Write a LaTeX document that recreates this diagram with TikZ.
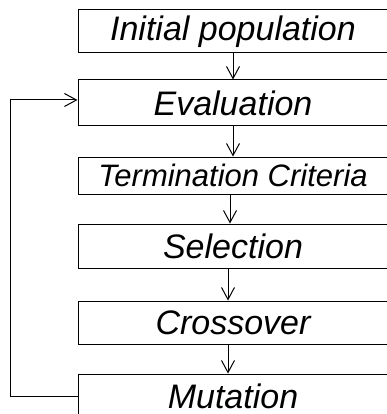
\documentclass[tikz,border=0pt]{standalone}
\usepackage{fontspec}
\setmainfont{Liberation Sans}
\usetikzlibrary{arrows.meta}
\begin{document}
\begin{tikzpicture}[x=1pt,y=-1pt,
  stagebox/.style={draw, line width=1pt, minimum width=310pt, inner sep=0pt, font=\fontsize{34}{36}\selectfont\itshape},
  flow/.style={line width=1pt, -{Straight Barb[length=12pt,width=13pt,line width=1pt]}}]
\useasboundingbox (0,0) rectangle (387,414);
\clip (0,0) rectangle (387,414);
\node[stagebox, minimum height=43pt] (b1) at (233,31.5) {Initial population};
\node[stagebox, minimum height=46pt] (b2) at (233,103) {Evaluation};
\node[stagebox, minimum height=37pt, font=\fontsize{31}{33}\selectfont\itshape] (b3) at (233,175.5) {Termination Criteria};
\node[stagebox, minimum height=44pt] (b4) at (233,246) {Selection};
\node[stagebox, minimum height=43pt] (b5) at (233,322.5) {Crossover};
\node[stagebox, minimum height=44pt] (b6) at (233,396) {Mutation};
\coordinate (lb) at (10,396);
\coordinate (lt) at (10,100);
\draw[flow] (b1.south) -- (b2.north);
\draw[flow] (b2.south) -- (b3.north);
\draw[flow] ([xshift=-3pt]b3.south) -- ([xshift=-3pt]b4.north);
\draw[flow] ([xshift=-5pt]b4.south) -- ([xshift=-5pt]b5.north);
\draw[flow] ([xshift=-5pt]b5.south) -- ([xshift=-5pt]b6.north);
\draw[flow] (b6.west) -- (lb) -- (lt) -- (lt -| b2.west);
\end{tikzpicture}
\end{document}
